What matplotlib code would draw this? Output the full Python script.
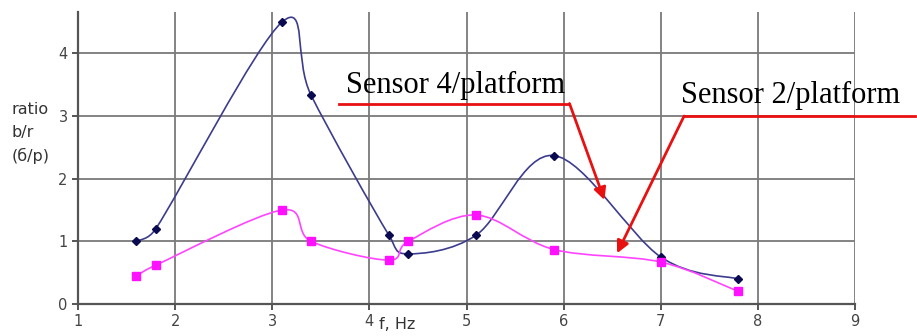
import numpy as np
import matplotlib
matplotlib.use("Agg")
import matplotlib.pyplot as plt
from matplotlib.path import Path
from matplotlib.patches import PathPatch

# frequency, Hz
freq = [1.6, 1.8, 3.1, 3.4, 4.2, 4.4, 5.1, 5.9, 7.0, 7.8]
# ratio sensor 4 / platform
sensor4 = [1.0, 1.2, 4.5, 3.33, 1.1, 0.8, 1.1, 2.37, 0.75, 0.4]
# ratio sensor 2 / platform
sensor2 = [0.45, 0.62, 1.5, 1.0, 0.7, 1.0, 1.42, 0.87, 0.67, 0.2]

x_ticks = [1, 2, 3, 4, 5, 6, 7, 8, 9]
y_ticks = [0, 1, 2, 3, 4]

# rough screen scale (px per unit), used to limit the control handles
SX, SY = 97.3, 62.7


def smooth_path(x, y, limit=0.6):
    """Excel-like smoothed line: Catmull-Rom Bezier, handles capped at limit*chord."""
    pts = np.column_stack([x, y])
    n = len(pts)

    def cap(offset, chord):
        o = np.hypot(offset[0] * SX, offset[1] * SY)
        c = np.hypot(chord[0] * SX, chord[1] * SY)
        if o > limit * c:
            offset = offset * (limit * c / o)
        return offset

    verts = [pts[0]]
    codes = [Path.MOVETO]
    for i in range(n - 1):
        p0 = pts[max(i - 1, 0)]
        p1 = pts[i]
        p2 = pts[i + 1]
        p3 = pts[min(i + 2, n - 1)]
        chord = p2 - p1
        c1 = p1 + cap((p2 - p0) / 6.0, chord)
        c2 = p2 - cap((p3 - p1) / 6.0, chord)
        verts += [c1, c2, p2]
        codes += [Path.CURVE4] * 3
    return Path(verts, codes)


fig = plt.figure(figsize=(9.17, 3.36), dpi=100)
ax = fig.add_axes([0.0851, 0.0952, 0.8473, 0.8690])

ax.set_xlim(1, 9)
ax.set_ylim(0, 4.66)
ax.set_xticks(x_ticks)
ax.set_yticks(y_ticks)
ax.grid(True, color="#7a7a7a", linewidth=1.3)
ax.set_axisbelow(True)
for side in ("top", "right"):
    ax.spines[side].set_visible(False)
for side in ("left", "bottom"):
    ax.spines[side].set_color("#555555")
    ax.spines[side].set_linewidth(1.6)
ax.tick_params(colors="#555555", labelcolor="#444444", labelsize=10.5,
               length=4, width=1.4)

ax.add_patch(PathPatch(smooth_path(freq, sensor4), fill=False,
                       edgecolor="#3c3c8e", linewidth=1.2))
ax.add_patch(PathPatch(smooth_path(freq, sensor2), fill=False,
                       edgecolor="#ff44ff", linewidth=1.2))
ax.plot(freq, sensor4, linestyle="none", marker="D", markersize=4.5,
        color="#0a0a50")
ax.plot(freq, sensor2, linestyle="none", marker="s", markersize=6,
        color="#ff10ff")

# labels
fig.text(0.013, 0.695, "ratio\nb/r\n(б/р)", fontsize=11.5, color="#333333",
         va="top", ha="left", linespacing=1.6)
ax.text(4.1, -0.33, "f, Hz", fontsize=11.5, color="#333333",
        ha="left", va="center", clip_on=False)

# callouts
red = "#e81010"
serif = ["Liberation Serif", "DejaVu Serif"]
ax.text(3.76, 3.49, "Sensor 4/platform", fontsize=22, family=serif,
        ha="left", va="center")
ax.text(7.21, 3.33, "Sensor 2/platform", fontsize=22, family=serif,
        ha="left", va="center", clip_on=False)

ax.plot([3.69, 6.06], [3.2, 3.2], color=red, linewidth=2, clip_on=False)
ax.annotate("", xy=(6.42, 1.66), xytext=(6.06, 3.2),
            arrowprops=dict(arrowstyle="-|>", color=red, lw=2,
                            mutation_scale=18, shrinkA=0, shrinkB=0))
ax.plot([7.24, 9.62], [3.0, 3.0], color=red, linewidth=2, clip_on=False)
ax.annotate("", xy=(6.55, 0.81), xytext=(7.24, 3.0),
            arrowprops=dict(arrowstyle="-|>", color=red, lw=2,
                            mutation_scale=18, shrinkA=0, shrinkB=0))

fig.savefig("out.png", dpi=100)
